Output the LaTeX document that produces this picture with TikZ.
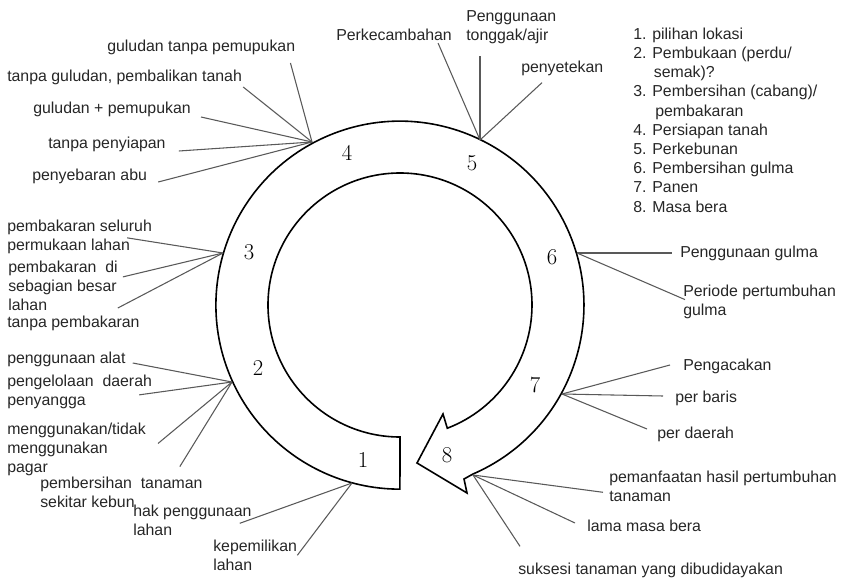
\documentclass[tikz,border=0pt]{standalone}
\usepackage{fontspec}
\setsansfont{Liberation Sans}

\begin{document}
\begin{tikzpicture}[x=0.75pt, y=-0.75pt,
  lbl/.style={inner sep=0pt, align=left, text=black!85,
    font=\sffamily\fontsize{11.9}{14.4}\selectfont},
  num/.style={inner sep=0pt, font=\fontsize{17}{20}\selectfont},
  spoke/.style={draw=black!65, line width=0.8pt},
  ring/.style={draw=black, line width=1.2pt, fill=white}]

  \useasboundingbox (0,0) rectangle (843,578);

  %%%%%%%%%%%%%%%% ring arrow %%%%%%%%%%%%%%%%
  \draw[ring] (400,437) arc[start angle=90, end angle=429, radius=132]
    -- (443,414) -- (417,463) -- (467,493) -- (464,479) -- (473,474)
    arc[start angle=426.6, end angle=90, radius=184] -- cycle;

  % stage numbers
  \node[num] (n1) at (363,460) {1};
  \node[num] (n2) at (258,368) {2};
  \node[num] (n3) at (249,252) {3};
  \node[num] (n4) at (347,153) {4};
  \node[num] (n5) at (472,163) {5};
  \node[num] (n6) at (552,257) {6};
  \node[num] (n7) at (535,385) {7};
  \node[num] (n8) at (447,455) {8};

  % where the spokes meet the ring
  \coordinate (p1) at (352,483);
  \coordinate (p2) at (232,382);
  \coordinate (p3) at (223,253);
  \coordinate (p4) at (312,142);
  \coordinate (p5) at (480,140);
  \coordinate (p6) at (577,253);
  \coordinate (p7) at (562,394);
  \coordinate (p8) at (473,475);

  %%%%%%%%%%%%%%%% 4: persiapan tanah %%%%%%%%%%%%%%%%
  \node[lbl, anchor=west] (g4a) at (107,47) {guludan tanpa pemupukan};
  \node[lbl, anchor=west] (g4b) at (7,77) {tanpa guludan, pembalikan tanah};
  \node[lbl, anchor=west] (g4c) at (33,109) {guludan + pemupukan};
  \node[lbl, anchor=west] (g4d) at (48,144) {tanpa penyiapan};
  \node[lbl, anchor=west] (g4e) at (32,176) {penyebaran abu};

  \draw[spoke] (p4) -- ([shift={(-5,16)}]g4a.east);
  \draw[spoke] (p4) -- ([shift={(1,10)}]g4b.east);
  \draw[spoke] (p4) -- ([shift={(10,8)}]g4c.east);
  \draw[spoke] (p4) -- ([shift={(13,7)}]g4d.east);
  \draw[spoke] (p4) -- ([shift={(11,6)}]g4e.east);

  %%%%%%%%%%%%%%%% 3: pembersihan %%%%%%%%%%%%%%%%
  \node[lbl, anchor=north west] (g3a) at (7,219.6) {pembakaran seluruh\\permukaan lahan};
  \node[lbl, anchor=north west] (g3b) at (8,260.6) {pembakaran~ di\\sebagian besar\\lahan};
  \node[lbl, anchor=west] (g3c) at (7,323) {tanpa pembakaran};

  \draw[spoke] (p3) -- ([shift={(-25,1)}]g3a.east);
  \draw[spoke] (p3) -- ([shift={(5,-9)}]g3b.east);
  \draw[spoke] (p3) -- ([shift={(-22,-15)}]g3c.east);

  %%%%%%%%%%%%%%%% 2: pembukaan %%%%%%%%%%%%%%%%
  \node[lbl, anchor=west] (g2a) at (7,359) {penggunaan alat};
  \node[lbl, anchor=north west] (g2b) at (7,374.6) {pengelolaan~ daerah\\penyangga};
  \node[lbl, anchor=north west] (g2c) at (7,422.6) {menggunakan/tidak\\menggunakan\\pagar};
  \node[lbl, anchor=north west] (g2d) at (40,476.6) {pembersihan~ tanaman\\sekitar kebun};

  \draw[spoke] (p2) -- ([shift={(7,4)}]g2a.east);
  \draw[spoke] (p2) -- ([shift={(-13,3)}]g2b.east);
  \draw[spoke] (p2) -- ([shift={(12,-6)}]g2c.east);
  \draw[spoke] (p2) -- ([shift={(-23,-10)}]g2d.north east);

  %%%%%%%%%%%%%%%% 1: pilihan lokasi %%%%%%%%%%%%%%%%
  \node[lbl, anchor=north west] (g1a) at (133,504.6) {hak penggunaan\\lahan};
  \node[lbl, anchor=north west] (g1b) at (213,539.6) {kepemilikan\\lahan};

  \draw[spoke] (p1) -- ([shift={(-12,3)}]g1a.east);
  \draw[spoke] (p1) -- (g1b.east);

  %%%%%%%%%%%%%%%% 5: perkebunan %%%%%%%%%%%%%%%%
  \node[lbl, anchor=west] (g5a) at (336,35) {Perkecambahan};
  \node[lbl, anchor=north west] (g5b) at (466,10.6) {Penggunaan\\tonggak/ajir};
  \node[lbl, anchor=west] (g5c) at (521,68) {penyetekan};

  \draw[spoke] (p5) -- ([shift={(-14,2)}]g5a.south east);
  \draw[spoke] (p5) -- ([shift={(14,11)}]g5b.south west);
  \draw[spoke] (p5) -- ([shift={(21,7)}]g5c.south west);

  % keterangan tahap
  \node[lbl, anchor=north west] (legend) at (633,27.6)
    {1. pilihan lokasi\\
     2. Pembukaan (perdu/\\
     \hspace*{15.5pt}semak)?\\
     3. Pembersihan (cabang)/\\
     \hspace*{16.5pt}pembakaran\\
     4. Persiapan tanah\\
     5. Perkebunan\\
     6. Pembersihan gulma\\
     7. Panen\\
     8. Masa bera};

  %%%%%%%%%%%%%%%% 6: pembersihan gulma %%%%%%%%%%%%%%%%
  \node[lbl, anchor=west] (g6a) at (680,253) {Penggunaan gulma};
  \node[lbl, anchor=north west] (g6b) at (683,284.6) {Periode pertumbuhan\\gulma};

  \draw[spoke] (p6) -- ([shift={(-8,0)}]g6a.west);
  \draw[spoke] (p6) -- ([shift={(2,15)}]g6b.north west);

  %%%%%%%%%%%%%%%% 7: panen %%%%%%%%%%%%%%%%
  \node[lbl, anchor=west] (g7a) at (683,366) {Pengacakan};
  \node[lbl, anchor=west] (g7b) at (675,398) {per baris};
  \node[lbl, anchor=west] (g7c) at (657,434) {per daerah};

  \draw[spoke] (p7) -- ([shift={(-13,-1)}]g7a.west);
  \draw[spoke] (p7) -- ([shift={(-12,-2)}]g7b.west);
  \draw[spoke] (p7) -- ([shift={(-10,-5)}]g7c.west);

  %%%%%%%%%%%%%%%% 8: masa bera %%%%%%%%%%%%%%%%
  \node[lbl, anchor=north west] (g8a) at (609,470.6) {pemanfaatan hasil pertumbuhan\\tanaman};
  \node[lbl, anchor=west] (g8b) at (587,526) {lama masa bera};
  \node[lbl, anchor=west] (g8c) at (518,570) {suksesi tanaman yang dibudidayakan};

  \draw[spoke] (p8) -- ([shift={(-6,6)}]g8a.west);
  \draw[spoke] (p8) -- ([shift={(-12,-3)}]g8b.west);
  \draw[spoke] (p8) -- ([shift={(2,-16)}]g8c.north west);

\end{tikzpicture}
\end{document}
